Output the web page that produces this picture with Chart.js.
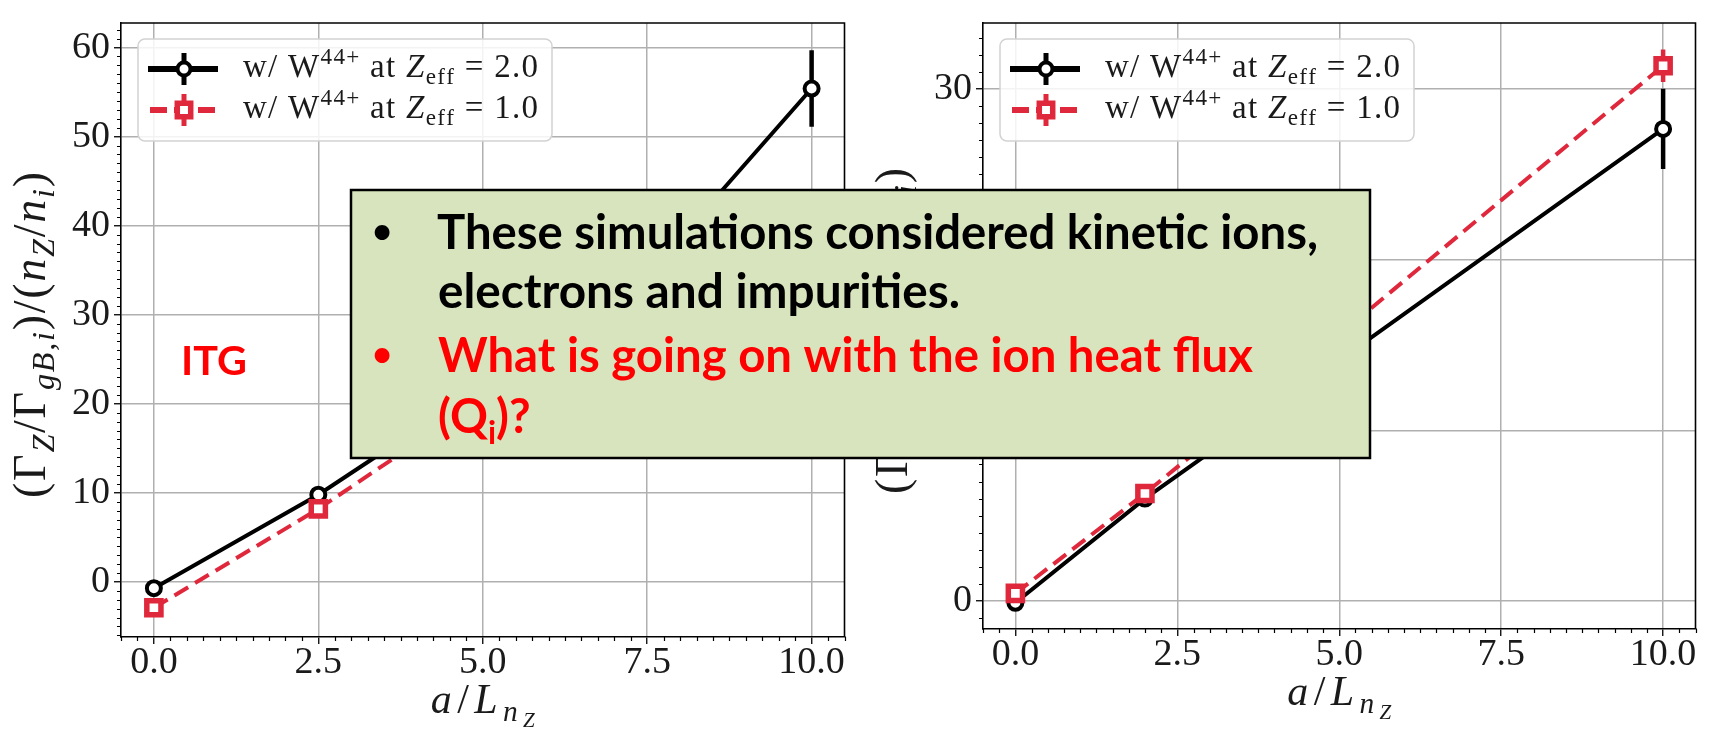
<!DOCTYPE html>
<html>
<head>
<meta charset="utf-8">
<script src="https://cdn.jsdelivr.net/npm/chart.js@4.4.0/dist/chart.umd.min.js"></script>
<style>
html, body { margin: 0; padding: 0; background: #fff; overflow: hidden; }
#wrap { position: relative; width: 1711px; height: 729px; }
canvas { position: absolute; top: 0; }
</style>
</head>
<body>
<div id="wrap">
    <canvas id="leftChart" width="860" height="729" style="left:0"></canvas>
    <canvas id="rightChart" width="851" height="729" style="left:860px"></canvas>
    <canvas id="note" width="1711" height="729" style="left:0;pointer-events:none"></canvas>
</div>
<script>
// DATA
const xLeft = [0.0, 2.5, 5.0, 7.5, 10.0];
const zeff2Left = [-0.7, 9.8, 22.0, 34.4, 55.4];
const zeff2LeftErr = [0.3, 0.4, 1.0, 1.5, 4.3];
const zeff1Left = [-2.9, 8.2, 20.6, 30.5, 38.0];
const zeff1LeftErr = [0.3, 0.4, 0.8, 1.0, 1.5];

const xRight = [0.0, 2.0, 5.0, 10.0];
const zeff2Right = [-0.1, 6.0, 14.1, 27.65];
const zeff2RightErr = [0.1, 0.2, 0.6, 2.35];
const zeff1Right = [0.45, 6.3, 15.6, 31.35];
const zeff1RightErr = [0.1, 0.2, 0.5, 0.95];

const xTicks = [0.0, 2.5, 5.0, 7.5, 10.0];
const yTicksLeft = [0, 10, 20, 30, 40, 50, 60];
const yTicksRight = [0, 10, 20, 30];
const zeffLabels = ['2.0', '1.0'];

const BLACK = '#000000';
const RED = '#e0283c';
const SERIF = '"Liberation Serif", "DejaVu Serif", serif';

// rich text helpers (math-like labels)
function partFont(p, size) {
    let s = size;
    if (p.sub || p.sup) s = size * 0.7;
    if (p.subsub) s = size * 0.5;
    return (p.it ? 'italic ' : '') + s.toFixed(1) + 'px ' + SERIF;
}
function partDy(p, size) {
    if (p.sub) return 0.2 * size;
    if (p.sup) return -0.38 * size;
    if (p.subsub) return 0.33 * size;
    return 0;
}
// draws with left edge at x, baseline at y; spreads the glyphs to fill width
function drawRich(ctx, parts, size, x, y, width) {
    const glyphs = [];
    parts.forEach(p => {
        ctx.font = partFont(p, size);
        [...p.t].forEach(c => glyphs.push({c: c, p: p, w: ctx.measureText(c).width}));
    });
    const natural = glyphs.reduce((s, g) => s + g.w, 0);
    let gap = 0, sx = 1;
    if (width && width > natural) gap = (width - natural) / (glyphs.length - 1);
    else if (width) sx = width / natural;
    ctx.save();
    ctx.translate(x, y);
    ctx.scale(sx, 1);
    ctx.textAlign = 'left';
    ctx.textBaseline = 'alphabetic';
    let cx = 0;
    glyphs.forEach(g => {
        ctx.font = partFont(g.p, size);
        ctx.fillText(g.c, cx, partDy(g.p, size));
        cx += g.w + gap;
    });
    ctx.restore();
}

const yTitleParts = [
    {t: '('}, {t: 'Γ'}, {t: 'Z', it: 1, sub: 1}, {t: '/'}, {t: 'Γ'}, {t: 'gB,i', it: 1, sub: 1},
    {t: ')/('}, {t: 'n', it: 1}, {t: 'Z', it: 1, sub: 1}, {t: '/'}, {t: 'n', it: 1}, {t: 'i', it: 1, sub: 1}, {t: ')'}
];
const xTitleParts = [{t: 'a', it: 1}, {t: '/'}, {t: 'L', it: 1}, {t: 'n', it: 1, sub: 1}, {t: 'Z', it: 1, subsub: 1}];
function legendParts(z) {
    return [{t: 'w/ W'}, {t: '44+', sup: 1}, {t: ' at '}, {t: 'Z', it: 1}, {t: 'eff', sub: 1}, {t: ' = ' + z}];
}

function drawMarker(ctx, style, x, y, r, bw, color) {
    ctx.save();
    ctx.fillStyle = '#fff';
    ctx.strokeStyle = color;
    ctx.lineWidth = bw;
    ctx.setLineDash([]);
    ctx.beginPath();
    if (style === 'rect') {
        const s = r * Math.SQRT1_2;
        ctx.rect(x - s, y - s, 2 * s, 2 * s);
    } else {
        ctx.arc(x, y, r, 0, Math.PI * 2);
    }
    ctx.fill();
    ctx.stroke();
    ctx.restore();
}

function makePlugin() {
    return {
        id: 'mpl',
        beforeDatasetDraw(chart, args) {
            const ds = chart.data.datasets[args.index];
            const xs = chart.scales.x, ys = chart.scales.y, a = chart.chartArea;
            const ctx = chart.ctx;
            ctx.save();
            ctx.beginPath();
            ctx.rect(a.left, a.top, a.right - a.left, a.bottom - a.top);
            ctx.clip();
            ctx.strokeStyle = ds.borderColor;
            ctx.lineWidth = 4.5;
            ds.data.forEach((p, i) => {
                const px = xs.getPixelForValue(p.x);
                ctx.beginPath();
                ctx.moveTo(px, ys.getPixelForValue(p.y - ds.errors[i]));
                ctx.lineTo(px, ys.getPixelForValue(p.y + ds.errors[i]));
                ctx.stroke();
            });
            ctx.restore();
        },
        afterDraw(chart) {
            const ctx = chart.ctx, a = chart.chartArea;
            const xs = chart.scales.x, ys = chart.scales.y;
            ctx.save();
            // top and right spines
            ctx.strokeStyle = '#000';
            ctx.lineWidth = 1.6;
            ctx.beginPath();
            ctx.moveTo(a.left, a.top); ctx.lineTo(a.right, a.top); ctx.lineTo(a.right, a.bottom);
            ctx.stroke();
            // minor ticks
            ctx.lineWidth = 1.2;
            ctx.beginPath();
            for (let k = Math.ceil(xs.min * 4); k <= Math.floor(xs.max * 4); k++) {
                if (k % 10 === 0) continue;
                const px = Math.round(xs.getPixelForValue(k / 4)) + 0.5;
                ctx.moveTo(px, a.bottom); ctx.lineTo(px, a.bottom + 4);
            }
            for (let k = Math.ceil(ys.min); k <= Math.floor(ys.max); k++) {
                if (k % 10 === 0) continue;
                const py = Math.round(ys.getPixelForValue(k)) + 0.5;
                ctx.moveTo(a.left, py); ctx.lineTo(a.left - 4, py);
            }
            ctx.stroke();

            // axis titles
            ctx.fillStyle = '#1a1a1a';
            const xc = (a.left + a.right) / 2;
            drawRich(ctx, xTitleParts, 42, xc - 52, a.bottom + 76, 104);
            ctx.save();
            ctx.translate(a.left - 76, (a.top + a.bottom) / 2 + 5);
            ctx.rotate(-Math.PI / 2);
            drawRich(ctx, yTitleParts, 46, -163, 0, 326);
            ctx.restore();

            // legend
            const bx = a.left + 17, by = a.top + 16, bw = 414, bh = 102;
            ctx.fillStyle = 'rgba(255,255,255,0.85)';
            ctx.strokeStyle = '#d2d2d2';
            ctx.lineWidth = 1.5;
            ctx.beginPath();
            ctx.roundRect(bx, by, bw, bh, 7);
            ctx.fill();
            ctx.stroke();
            chart.data.datasets.forEach((ds, i) => {
                const cy = by + 30 + i * 41;
                const mx = bx + 46;
                ctx.strokeStyle = ds.borderColor;
                ctx.lineWidth = 6;
                ctx.setLineDash(ds.borderDash ? [17, 7] : []);
                ctx.beginPath();
                ctx.moveTo(bx + (ds.borderDash ? 12 : 10), cy);
                ctx.lineTo(bx + 80, cy);
                ctx.stroke();
                ctx.setLineDash([]);
                ctx.lineWidth = 5;
                ctx.beginPath();
                ctx.moveTo(mx, cy - 16); ctx.lineTo(mx, cy + 16);
                ctx.stroke();
                drawMarker(ctx, ds.pointStyle, mx, cy, ds.pointStyle === 'rect' ? 9.5 : 6.5,
                    ds.pointBorderWidth, ds.borderColor);
                ctx.fillStyle = '#1a1a1a';
                drawRich(ctx, legendParts(zeffLabels[i]), 33, bx + 105, cy + 8, 295);
            });
            ctx.restore();
        }
    };
}

function makeChart(id, xs, black, blackErr, red, redErr, yMin, yMax, yTicks, pad, yAxisW, xAxisH) {
    const ctx = document.getElementById(id).getContext('2d');
    const tickFont = {family: SERIF, size: 38, lineHeight: 1};
    return new Chart(ctx, {
        type: 'line',
        data: {
            datasets: [{
                data: xs.map((x, i) => ({x: x, y: black[i]})),
                errors: blackErr,
                borderColor: BLACK,
                borderWidth: 4,
                pointStyle: 'circle',
                pointRadius: 7,
                pointBorderWidth: 4,
                pointBackgroundColor: '#fff',
                pointBorderColor: BLACK,
                tension: 0,
                order: 1
            }, {
                data: xs.map((x, i) => ({x: x, y: red[i]})),
                errors: redErr,
                borderColor: RED,
                borderWidth: 4,
                borderDash: [16, 8],
                pointStyle: 'rect',
                pointRadius: 10,
                pointBorderWidth: 5.5,
                pointBackgroundColor: '#fff',
                pointBorderColor: RED,
                tension: 0,
                order: 0
            }]
        },
        options: {
            responsive: false,
            devicePixelRatio: 1,
            animation: false,
            events: [],
            layout: {padding: pad},
            plugins: {legend: {display: false}, tooltip: {enabled: false}},
            scales: {
                x: {
                    type: 'linear',
                    min: -0.5,
                    max: 10.5,
                    afterBuildTicks: s => { s.ticks = xTicks.map(v => ({value: v})); },
                    afterFit: s => { s.height = xAxisH; },
                    grid: {color: '#b0b0b0', lineWidth: 1.5, drawTicks: true, tickLength: 7, tickColor: '#000', tickWidth: 1.3},
                    border: {display: true, color: '#000', width: 1.6},
                    ticks: {font: tickFont, color: '#1a1a1a', padding: 0, maxRotation: 0, autoSkip: false,
                        callback: v => Number(v).toFixed(1)}
                },
                y: {
                    type: 'linear',
                    min: yMin,
                    max: yMax,
                    afterBuildTicks: s => { s.ticks = yTicks.map(v => ({value: v})); },
                    afterFit: s => { s.width = yAxisW; },
                    grid: {color: '#b0b0b0', lineWidth: 1.5, drawTicks: true, tickLength: 7, tickColor: '#000', tickWidth: 1.3},
                    border: {display: true, color: '#000', width: 1.6},
                    ticks: {font: tickFont, color: '#1a1a1a', padding: 4, autoSkip: false,
                        callback: v => String(v)}
                }
            }
        },
        plugins: [makePlugin()]
    });
}

makeChart('leftChart', xLeft, zeff2Left, zeff2LeftErr, zeff1Left, zeff1LeftErr,
    -6.18, 62.76, yTicksLeft, {left: 0, top: 12, right: 13, bottom: 0}, 121, 92);
makeChart('rightChart', xRight, zeff2Right, zeff2RightErr, zeff1Right, zeff1RightErr,
    -1.636, 33.855, yTicksRight, {left: 0, top: 15, right: 8, bottom: 0}, 123, 100);

// slide overlay: text box and ITG label
function fitText(ctx, text, x, y, width) {
    const w = ctx.measureText(text).width;
    ctx.save();
    ctx.translate(x, y);
    ctx.scale(width / w, 1);
    ctx.fillText(text, 0, 0);
    ctx.restore();
}
(function drawNote() {
    const ctx = document.getElementById('note').getContext('2d');
    ctx.fillStyle = '#d7e4bd';
    ctx.fillRect(351, 190, 1019, 268);
    ctx.strokeStyle = '#000';
    ctx.lineWidth = 2.5;
    ctx.strokeRect(351, 190, 1019, 268);

    ctx.textBaseline = 'alphabetic';
    const font = 'bold 47px Lato, "Open Sans", sans-serif';
    const bulletFont = 'bold 34px Lato, "Open Sans", sans-serif';
    ctx.fillStyle = '#000';
    ctx.textAlign = 'center';
    ctx.font = bulletFont;
    ctx.fillText('•', 382, 243);
    ctx.textAlign = 'left';
    ctx.font = font;
    fitText(ctx, 'These simulations considered kinetic ions,', 437, 249, 881);
    fitText(ctx, 'electrons and impurities.', 438, 308, 522);
    ctx.fillStyle = '#ff0000';
    ctx.textAlign = 'center';
    ctx.font = bulletFont;
    ctx.fillText('•', 382, 366);
    ctx.textAlign = 'left';
    ctx.font = font;
    fitText(ctx, 'What is going on with the ion heat flux', 438, 372, 815);
    // (Q_i)?
    ctx.save();
    ctx.translate(438, 433);
    let cx = 0;
    ctx.font = font;
    ctx.fillText('(Q', cx, 0); cx += ctx.measureText('(Q').width;
    ctx.font = 'bold 32px Lato, "Open Sans", sans-serif';
    ctx.fillText('i', cx, 11); cx += ctx.measureText('i').width;
    ctx.font = font;
    ctx.fillText(')?', cx, 0);
    ctx.restore();

    ctx.font = 'bold 41px Lato, "Open Sans", sans-serif';
    fitText(ctx, 'ITG', 181, 375, 66);
})();
</script>
</body>
</html>
